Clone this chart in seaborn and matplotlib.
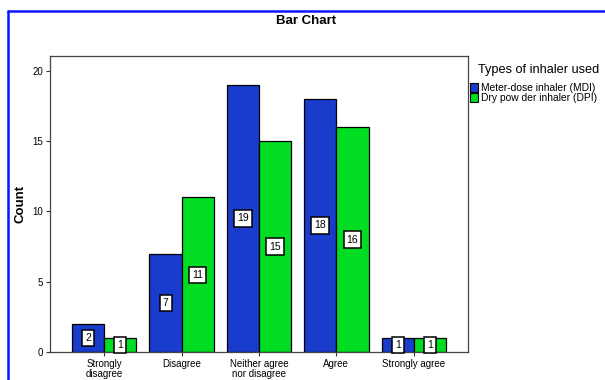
import matplotlib
matplotlib.use("Agg")
import matplotlib.pyplot as plt
from matplotlib.lines import Line2D
from matplotlib.patches import Patch
import seaborn as sns
import pandas as pd

responses = ["Strongly\ndisagree", "Disagree", "Neither agree\nnor disagree",
             "Agree", "Strongly agree"]
mdi_counts = [2, 7, 19, 18, 1]
dpi_counts = [1, 11, 15, 16, 1]
inhalers = ["Meter-dose inhaler (MDI)", "Dry pow der inhaler (DPI)"]
colors = ["#1a3ccc", "#00dd22"]

df = pd.DataFrame({
    "response": responses * 2,
    "count": mdi_counts + dpi_counts,
    "inhaler": [inhalers[0]] * len(responses) + [inhalers[1]] * len(responses),
})

sns.set_theme(style="white")
plt.rcParams["font.family"] = ["Liberation Sans", "DejaVu Sans"]
plt.rcParams["text.color"] = "black"

W, H = 605, 380
fig = plt.figure(figsize=(W / 100, H / 100), dpi=100)
ax = fig.add_axes([50 / W, (H - 352) / H, (468 - 50) / W, (352 - 56) / H])

sns.barplot(data=df, x="response", y="count", hue="inhaler", palette=colors,
            order=responses, hue_order=inhalers, width=0.83, gap=0,
            edgecolor="black", linewidth=0.9, saturation=1, ax=ax, legend=False)

for cont in ax.containers:
    ax.bar_label(cont, label_type="center", fontsize=7.5, color="black",
                 bbox=dict(boxstyle="square,pad=0.3", facecolor="white",
                           edgecolor="black", linewidth=1.1))

ax.set_xlim(-0.7, 4.7)
ax.set_ylim(0, 21.05)
ax.set_yticks([0, 5, 10, 15, 20])
ax.set_xlabel("")
ax.set_ylabel("Count", fontsize=9.5, fontweight="bold", labelpad=4,
              color="black")
ax.tick_params(axis="both", direction="out", length=3, width=0.8,
               colors="#333333", labelsize=7, labelcolor="black", pad=2,
               bottom=True, left=True)
for lab in ax.get_xticklabels():
    lab.set_linespacing(0.95)
for sp in ax.spines.values():
    sp.set_color("#444444")
    sp.set_linewidth(0.9)

fig.text(306 / W, (H - 21) / H, "Bar Chart", ha="center", va="center",
         fontsize=9.5, fontweight="bold", color="black")

# legend: title set separately so it sits indented above the swatches
fig.text(478 / W, (H - 70) / H, "Types of inhaler used", ha="left",
         va="center", fontsize=9.2, color="black")
handles = [Patch(facecolor=c, edgecolor="black", linewidth=0.8) for c in colors]
leg = fig.legend(handles, inhalers,
                 loc="upper left", bbox_to_anchor=(470 / W, (H - 83) / H),
                 frameon=False, fontsize=7.4,
                 handlelength=0.8, handleheight=0.95, handletextpad=0.25,
                 labelspacing=0.0, borderpad=0.0, borderaxespad=0)

# outer blue frame
fig.add_artist(Line2D([8 / W, 1.0], [(H - 11) / H, (H - 11) / H],
                      color="#0a14ff", linewidth=1.8))
fig.add_artist(Line2D([8 / W, 8 / W], [0, (H - 11) / H],
                      color="#0a14ff", linewidth=1.8))

fig.savefig("out.png", dpi=100)
